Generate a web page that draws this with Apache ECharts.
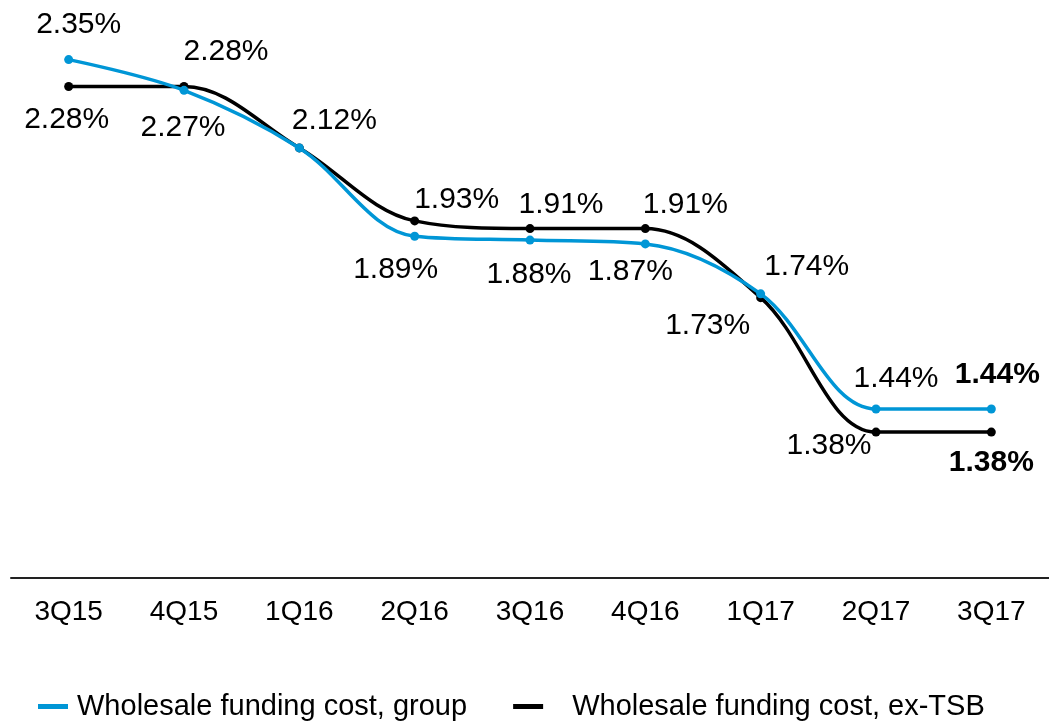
<!DOCTYPE html>
<html><head><meta charset="utf-8">
<script src="https://cdn.jsdelivr.net/npm/echarts@6/dist/echarts.min.js"></script>
<style>html,body{margin:0;padding:0;background:#fff}#c{width:1049px;height:721px}</style>
</head><body><div id="c"></div>
<script>
const categories = ['3Q15','4Q15','1Q16','2Q16','3Q16','4Q16','1Q17','2Q17','3Q17'];
const groupValues = [2.35, 2.27, 2.12, 1.89, 1.88, 1.87, 1.74, 1.44, 1.44];
const exTsbValues = [2.28, 2.28, 2.12, 1.93, 1.91, 1.91, 1.73, 1.38, 1.38];
const seriesNames = ['Wholesale funding cost, group', 'Wholesale funding cost, ex-TSB'];

// label placement (offset of label centre from point), not data
const groupLabelOffsets = [[10,-35],[-1,37],[35,-27],[-19,33],[-1,35],[-15,28],[46,-27],[20,-30],[6,-34]];
const exTsbLabelOffsets = [[-2,33],[42,-35],null,[42,-21],[31,-24],[40,-24],[-53,28],[-47,14],[0,31]];

const BLUE = '#0096d6';
const FONT = 'Liberation Sans, Arial, sans-serif';

function build(values, offsets) {
  return values.map((v, i) => {
    const off = offsets[i];
    const last = i === values.length - 1;
    return {
      value: v,
      label: off ? {
        show: true, position: 'inside', offset: off,
        fontWeight: last ? 'bold' : 'normal'
      } : { show: false }
    };
  });
}

const chart = echarts.init(document.getElementById('c'));
chart.setOption({
  animation: false,
  grid: { left: 11, right: -3, top: 2, bottom: 143 },
  xAxis: {
    type: 'category', data: categories, boundaryGap: true,
    axisLine: { lineStyle: { color: '#222', width: 2 } },
    axisTick: { show: false },
    axisLabel: { color: '#000', fontSize: 28, fontFamily: FONT, margin: 20 }
  },
  yAxis: { type: 'value', min: 1, max: 2.5, show: false, splitLine: { show: false } },
  legend: {
    left: 38, top: 692, padding: 0, itemGap: 46, itemWidth: 30, itemHeight: 5,
    textStyle: { fontSize: 29, fontFamily: FONT, color: '#000', padding: [0,0,0,4] },
    data: [
      { name: seriesNames[0], icon: 'rect', itemStyle: { color: BLUE } },
      { name: seriesNames[1], icon: 'rect', itemStyle: { color: '#000' },
        textStyle: { padding: [0,0,0,24] } }
    ]
  },
  series: [
    {
      name: seriesNames[1], type: 'line', smooth: 0.35, z: 2,
      data: build(exTsbValues, exTsbLabelOffsets),
      symbol: 'circle', symbolSize: 9,
      lineStyle: { color: '#000', width: 3.5 }, itemStyle: { color: '#000' },
      label: { color: '#000', fontSize: 30, fontFamily: FONT, formatter: p => p.value.toFixed(2) + '%' }
    },
    {
      name: seriesNames[0], type: 'line', smooth: 0.35, z: 3,
      data: build(groupValues, groupLabelOffsets),
      symbol: 'circle', symbolSize: 9,
      lineStyle: { color: BLUE, width: 3.5 }, itemStyle: { color: BLUE },
      label: { color: '#000', fontSize: 30, fontFamily: FONT, formatter: p => p.value.toFixed(2) + '%' }
    }
  ]
});
</script></body></html>
